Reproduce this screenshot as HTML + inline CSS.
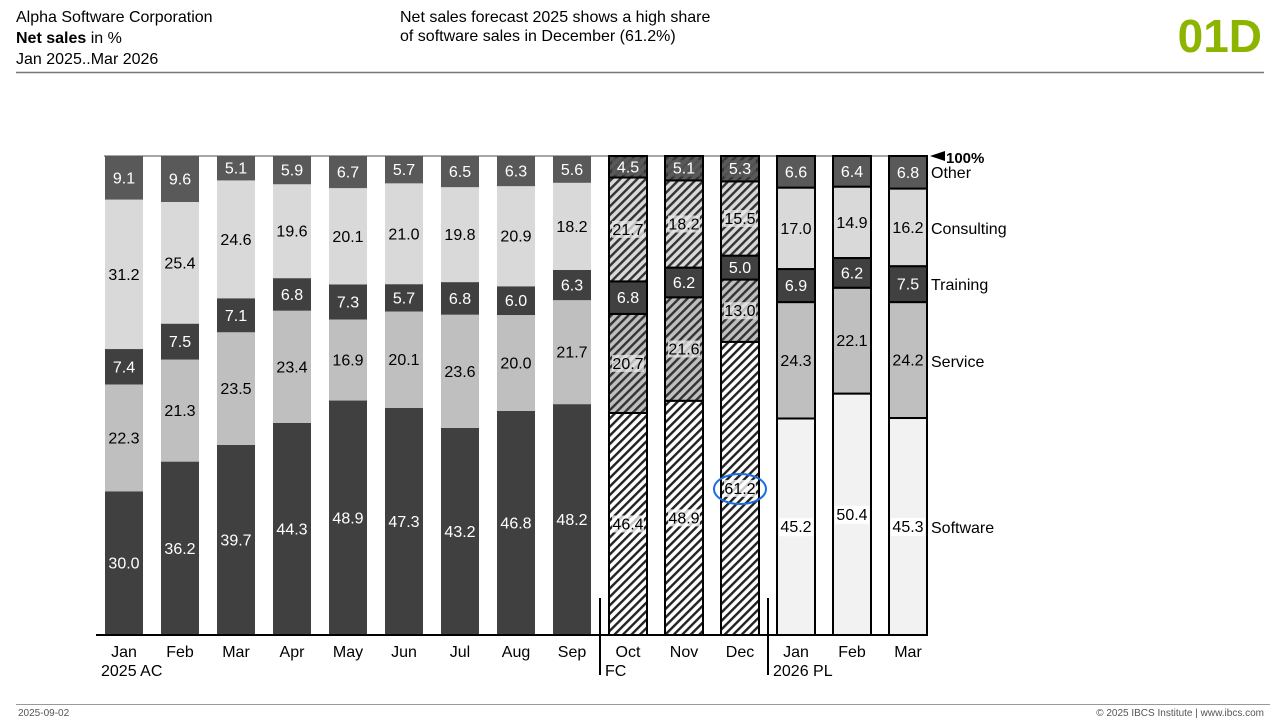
<!DOCTYPE html>
<html><head><meta charset="utf-8"><style>
body{margin:0;width:1280px;height:720px;background:#fff;font-family:"Liberation Sans",sans-serif;overflow:hidden}
svg{position:absolute;left:0;top:0}
</style></head><body>
<svg id="s" width="1280" height="720" xmlns="http://www.w3.org/2000/svg" font-family="Liberation Sans, sans-serif">
<defs>
<pattern id="hw" patternUnits="userSpaceOnUse" width="6" height="6" patternTransform="rotate(45)"><rect width="6" height="6" fill="#fff"/><rect width="2.4" height="6" fill="#222"/></pattern>
<pattern id="hg" patternUnits="userSpaceOnUse" width="6" height="6" patternTransform="rotate(45)"><rect width="6" height="6" fill="#bfbfbf"/><rect width="2.4" height="6" fill="#333"/></pattern>
<pattern id="hl" patternUnits="userSpaceOnUse" width="6" height="6" patternTransform="rotate(45)"><rect width="6" height="6" fill="#d9d9d9"/><rect width="2.4" height="6" fill="#333"/></pattern>
<pattern id="hd" patternUnits="userSpaceOnUse" width="6" height="6" patternTransform="rotate(45)"><rect width="6" height="6" fill="#595959"/><rect width="2.4" height="6" fill="#333"/></pattern>
</defs>
<text x="16" y="22" font-size="16">Alpha Software Corporation</text>
<text x="16" y="43" font-size="16"><tspan font-weight="bold">Net sales</tspan> in %</text>
<text x="16" y="64" font-size="16">Jan 2025..Mar 2026</text>
<text x="400" y="22" font-size="16">Net sales forecast 2025 shows a high share</text>
<text x="400" y="41" font-size="16">of software sales in December (61.2%)</text>
<text x="1262" y="52" font-size="46" font-weight="bold" fill="#8db500" text-anchor="end">01D</text>
<line x1="16" y1="72.5" x2="1264" y2="72.5" stroke="#777" stroke-width="1.5"/>
<line x1="16" y1="704.5" x2="1270" y2="704.5" stroke="#999" stroke-width="1"/>
<text x="18" y="716" font-size="10" fill="#555">2025-09-02</text>
<text x="1264" y="716" font-size="10" fill="#555" text-anchor="end">© 2025 IBCS Institute | www.ibcs.com</text>
<g id="g"></g>
</svg>
<script>
(function(){
var D=[[30.0,22.3,7.4,31.2,9.1],[36.2,21.3,7.5,25.4,9.6],[39.7,23.5,7.1,24.6,5.1],[44.3,23.4,6.8,19.6,5.9],[48.9,16.9,7.3,20.1,6.7],[47.3,20.1,5.7,21.0,5.7],[43.2,23.6,6.8,19.8,6.5],[46.8,20.0,6.0,20.9,6.3],[48.2,21.7,6.3,18.2,5.6],[46.4,20.7,6.8,21.7,4.5],[48.9,21.6,6.2,18.2,5.1],[61.2,13.0,5.0,15.5,5.3],[45.2,24.3,6.9,17.0,6.6],[50.4,22.1,6.2,14.9,6.4],[45.3,24.2,7.5,16.2,6.8]];
var M=["Jan","Feb","Mar","Apr","May","Jun","Jul","Aug","Sep","Oct","Nov","Dec","Jan","Feb","Mar"];
var AC=["#404040","#bfbfbf","#404040","#d9d9d9","#595959"],PL=["#f2f2f2","#bfbfbf","#404040","#d9d9d9","#595959"],FC=["url(#hw)","url(#hg)","#404040","url(#hl)","url(#hd)"];
var TC=["#fff","#000","#fff","#000","#fff"],TP=["#000","#000","#fff","#000","#fff"];
var T0=156,B=635,H=B-T0,h='';
h+='<line x1="104" y1="156" x2="928" y2="156" stroke="#888" stroke-width="1.5"/>';
for(var i=0;i<15;i++){var cx=124+56*i,x=cx-19,y=B,t=D[i].reduce(function(a,b){return a+b;},0);
 for(var k=0;k<5;k++){var sh=D[i][k]/t*H,y0=y-sh;var f=i<9?AC[k]:i<12?FC[k]:PL[k];
  var st=i>=9?' stroke="#000" stroke-width="2"':'';
  h+='<rect x="'+x+'" y="'+y0+'" width="38" height="'+sh+'" fill="'+f+'"'+st+'/>';
  var ly=y0+sh/2+5.5,c=i<12?TC[k]:TP[k];
  if(i>=9&&i<12&&k!=2){h+='<rect x="'+(cx-16)+'" y="'+(ly-14)+'" width="32" height="17" fill="'+(k==0?'#fff':k==4?'#595959':'#e8e8e8')+'" opacity="0.75"/>';c=k==4?'#fff':'#000';}
  if(i>=12&&k==0)h+='<rect x="'+(cx-17)+'" y="'+(ly-14)+'" width="34" height="18" fill="#fff"/>';
  h+='<text x="'+cx+'" y="'+ly+'" font-size="16" fill="'+c+'" text-anchor="middle">'+D[i][k].toFixed(1)+'</text>';
  y=y0;}
 h+='<text x="'+cx+'" y="657" font-size="16" text-anchor="middle">'+M[i]+'</text>';}
h+='<line x1="96" y1="635" x2="926" y2="635" stroke="#000" stroke-width="2"/>';
h+='<line x1="600" y1="598" x2="600" y2="675" stroke="#000" stroke-width="2"/><line x1="768" y1="598" x2="768" y2="675" stroke="#000" stroke-width="2"/>';
h+='<text x="101" y="676" font-size="16">2025 AC</text><text x="605" y="676" font-size="16">FC</text><text x="773" y="676" font-size="16">2026 PL</text>';
h+='<ellipse cx="740" cy="489" rx="26" ry="15" fill="none" stroke="#1a6ee0" stroke-width="2"/>';
h+='<polygon points="930,156 945,151 945,161" fill="#000"/><text x="946" y="163" font-size="15" font-weight="bold">100%</text>';
var L=[["Other",178],["Consulting",234],["Training",290],["Service",367],["Software",533]];
L.forEach(function(l){h+='<text x="931" y="'+l[1]+'" font-size="16">'+l[0]+'</text>';});
document.getElementById('g').innerHTML=h;
})();
</script>
</body></html>
